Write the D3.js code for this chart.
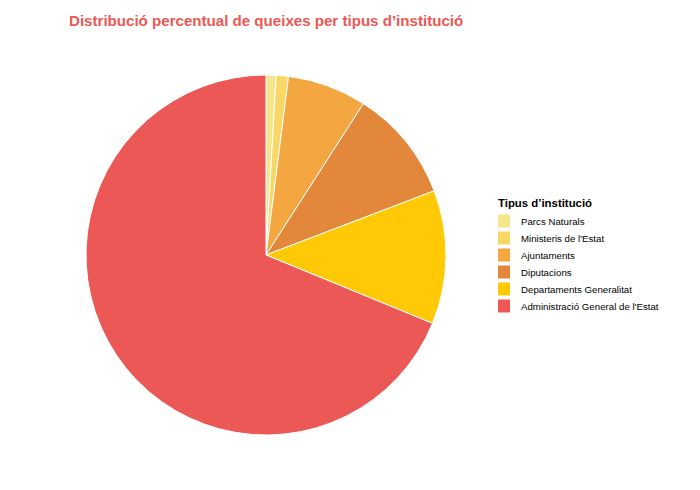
<!DOCTYPE html>
<html>
<head>
<meta charset="utf-8">
<script src="https://cdn.jsdelivr.net/npm/d3@7"></script>
<style>
  body { margin: 0; background: #fff; }
  text { font-family: "Liberation Sans", Arial, sans-serif; }
</style>
</head>
<body>
<div id="chart"></div>
<script>
// categories, clockwise from 12 o'clock
var categories = ["Parcs Naturals", "Ministeris de l'Estat", "Ajuntaments", "Diputacions", "Departaments Generalitat", "Administració General de l'Estat"];
// percentage of complaints
var values = [0.9, 1.1, 7.1, 10.1, 12.0, 68.8];
var palette = ["#F5E68A", "#F8D765", "#F4A641", "#E3883A", "#FFCA05", "#EB5855"];

var width = 700, height = 490;
var cx = 266, cy = 255, radius = 180;

var svg = d3.select("#chart").append("svg")
    .attr("width", width).attr("height", height);

// title
svg.append("text")
    .attr("x", 69).attr("y", 26)
    .attr("font-size", 15.1).attr("font-weight", "bold")
    .attr("fill", "#EB5855")
    .text("Distribució percentual de queixes per tipus d\u2019institució");

var color = d3.scaleOrdinal().domain(categories).range(palette);

var data = categories.map(function(c, i) { return { name: c, value: values[i] }; });

var pie = d3.pie().sort(null).value(function(d) { return d.value; });
var arc = d3.arc().innerRadius(0).outerRadius(radius);

var g = svg.append("g").attr("transform", "translate(" + cx + "," + cy + ")");
g.selectAll("path").data(pie(data)).enter().append("path")
    .attr("d", arc)
    .attr("fill", function(d) { return color(d.data.name); })
    .attr("stroke", "#fff")
    .attr("stroke-width", 1);

// legend
var legend = svg.append("g").attr("transform", "translate(498,0)");
legend.append("text")
    .attr("x", 0).attr("y", 207)
    .attr("font-size", 11.4).attr("font-weight", "bold")
    .attr("fill", "#000")
    .text("Tipus d\u2019institució");

var ly = d3.scalePoint().domain(categories).range([221, 306]);
var items = legend.selectAll("g.item").data(categories).enter().append("g")
    .attr("class", "item")
    .attr("transform", function(d) { return "translate(0," + ly(d) + ")"; });
items.append("rect")
    .attr("x", 0).attr("y", -6.5).attr("width", 12).attr("height", 13)
    .attr("fill", function(d) { return color(d); });
items.append("text")
    .attr("x", 23).attr("y", 3.5)
    .attr("font-size", 9.7).attr("fill", "#000")
    .text(function(d) { return d; });
</script>
</body>
</html>
